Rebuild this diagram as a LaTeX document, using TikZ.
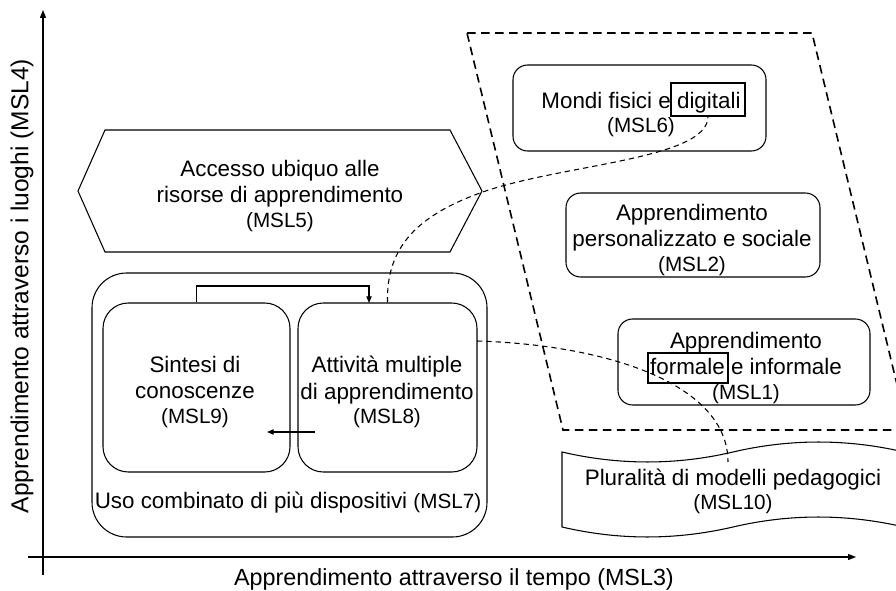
\documentclass[tikz,border=0pt]{standalone}
\usepackage{fontspec}
\setmainfont{Liberation Sans}
\usetikzlibrary{arrows.meta,calc}
\newcommand{\mslsize}[1]{{\fontsize{15.5}{18}\selectfont #1}}
\begin{document}
\begin{tikzpicture}[x=0.75pt,y=-0.75pt,
  line/.style={line width=0.8pt},
  rbox/.style={draw, line width=0.8pt, rounded corners=11pt, inner sep=0pt},
  txt/.style={align=center, inner sep=0pt, font=\fontsize{16.8}{20}\selectfont},
  wordbox/.style={draw, line width=0.8pt, inner sep=0pt},
  dashcurve/.style={line width=0.8pt, dash pattern=on 4pt off 3pt},
  dashzone/.style={line width=1.2pt, dash pattern=on 6.5pt off 4pt},
  tip/.style={-{Triangle[length=5pt,width=4pt]}},
  axtip/.style={-{Triangle[length=6pt,width=4.5pt]}}
]
\useasboundingbox (0,0) rectangle (896,591);
\clip (0,0) rectangle (896,591);
\fill[white] (0,0) rectangle (896,591);

% axes
\coordinate (ybot) at (43,575);
\coordinate (ytop) at (43,10);
\coordinate (xleft) at (28,557);
\coordinate (xright) at (856,557);
\draw[line, axtip] (ybot) -- (ytop);
\draw[line, axtip] (xleft) -- (xright);
\node[rotate=90, inner sep=0pt, font=\fontsize{18.4}{20}\selectfont] (ylab) at (22,286)
  {Apprendimento attraverso i luoghi (MSL4)};
\node[inner sep=0pt, font=\fontsize{17.5}{20}\selectfont] (xlab) at (454,579)
  {Apprendimento attraverso il tempo (MSL3)};

% dashed zone
\draw[dashzone] (467,33) -- (812,33) -- (908,430) -- (563,430) -- cycle;

% hexagon MSL5
\draw[line] (105,130) -- (450,130) -- (482,191) -- (450,252) -- (105,252) -- (78,191) -- cycle;
\node[txt] (m5) at (280,196) {Accesso ubiquo alle\\risorse di apprendimento\\[-1.5pt]\mslsize{(MSL5)}};

% MSL7 outer
\node[rbox, rounded corners=26pt, minimum width=296.25pt, minimum height=198pt] (m7) at (289.5,405) {};
\node[txt] (m7lab) at (288,503) {Uso combinato di più dispositivi \mslsize{(MSL7)}};

% MSL9 and MSL8
\node[rbox, rounded corners=19pt, minimum width=140.25pt, minimum height=126.75pt] (m9) at (196.5,387.5) {};
\node[txt] (m9t) at (195,392) {Sintesi di\\conoscenze\\[-1.5pt]\mslsize{(MSL9)}};
\node[rbox, rounded corners=19pt, minimum width=134.25pt, minimum height=126.75pt] (m8) at (387.5,387.5) {};
\node[txt] (m8t) at (387,392) {Attività multiple\\di apprendimento\\[-1.5pt]\mslsize{(MSL8)}};

% right boxes
\node[rbox, minimum width=189.75pt, minimum height=64.5pt] (m6) at (639.5,108) {};
\node[txt] (m6t) at (641,114.5) {Mondi fisici e digitali\\[-2pt]\mslsize{(MSL6)}};
\node[wordbox, minimum width=55.5pt, minimum height=24.75pt] (dig) at (708,99.5) {};
\node[rbox, minimum width=190.5pt, minimum height=63pt] (m2) at (693,235) {};
\node[txt] (m2t) at (692,240) {Apprendimento\\personalizzato e sociale\\[-1.5pt]\mslsize{(MSL2)}};
\node[rbox, minimum width=189pt, minimum height=64.5pt] (m1) at (744,362) {};
\node[txt] (m1t) at (746,368) {Apprendimento\\formale e informale\\[-1.5pt]\mslsize{(MSL1)}};
\node[wordbox, minimum width=60pt, minimum height=22.5pt] (form) at (688,368) {};

% MSL10 tape
\draw[line] (562,452) .. controls (618.7,465.3) and (676.3,465.3) .. (733,452)
  .. controls (789.7,438.7) and (847.3,438.7) .. (904,452) -- (904,527)
  .. controls (846.7,513.7) and (789.7,513.7) .. (733,527)
  .. controls (675.7,540.3) and (618.7,540.3) .. (562,527) -- cycle;
\node[txt] (m10) at (733,491) {Pluralità di modelli pedagogici\\[-2pt]\mslsize{(MSL10)}};

% connectors
\coordinate (loopa) at (196.5,286);
\coordinate (in8) at (369,303);
\draw[line, tip] (m9.north) -- (loopa) -| (in8);
\coordinate (ar1) at (315,432);
\coordinate (ar2) at (267,432);
\draw[line, tip] (ar1) -- (ar2);

\coordinate (mid1) at (480,193);
\draw[dashcurve] (m8.north) .. controls (386,245) and (420,215) .. (mid1)
  .. controls (560,164) and (708,160) .. (dig.south);
\coordinate (out8) at (477,341);
\coordinate (in10) at (728,462);
\draw[dashcurve] (out8) .. controls (610,345) and (728,385) .. (in10);
\end{tikzpicture}
\end{document}
